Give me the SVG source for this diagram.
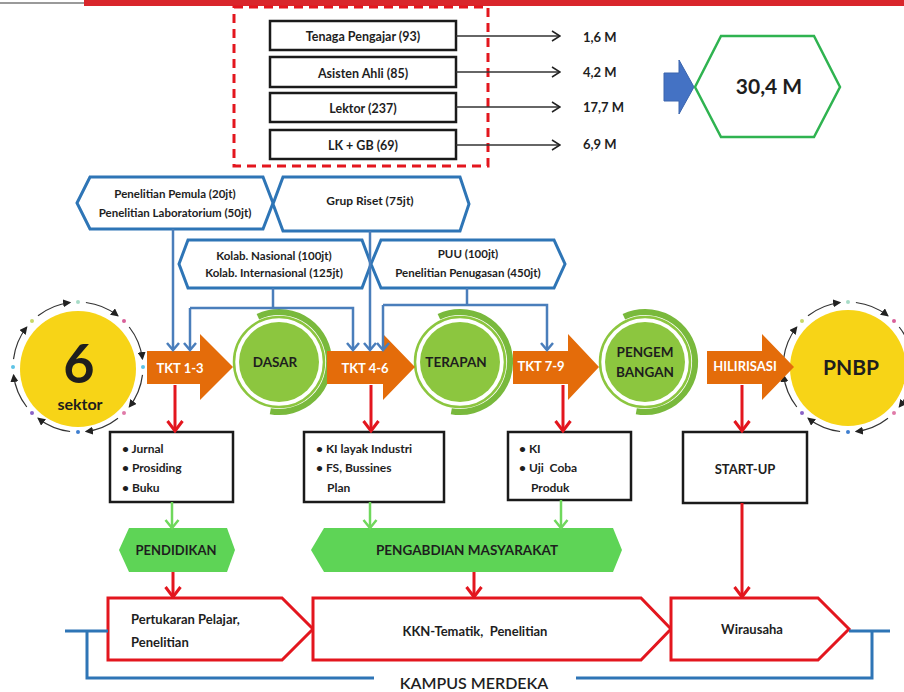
<svg xmlns="http://www.w3.org/2000/svg" width="904" height="692" viewBox="0 0 904 692">
<style>
text{font-family:Lato,"Liberation Sans",sans-serif;fill:#1e1e1e}
.b{font-weight:bold}
.c{text-anchor:middle;dominant-baseline:central}
.box{fill:#fff;stroke:#1a1a1a;stroke-width:2.5}
.hexb{fill:#fff;stroke:#2e75b6;stroke-width:3;stroke-linejoin:miter}
.blue{fill:none;stroke:#4a7ebb;stroke-width:2.5}
.red{fill:none;stroke:#e3161e;stroke-width:3}
.grn{fill:none;stroke:#6fd85c;stroke-width:2.5}
.blk{fill:none;stroke:#333;stroke-width:1.3}
.org{fill:#e46c0a}
.wt{fill:#fff;font-weight:bold;font-size:13px}
.chev{fill:#fff;stroke:#e3161e;stroke-width:3}
.ghex{fill:#5ed456}
.ring{fill:none;stroke:#333;stroke-width:1.2}
</style>
<defs>
<marker id="mb" viewBox="0 0 14 14" refX="7" refY="12" markerWidth="14" markerHeight="14" markerUnits="userSpaceOnUse" orient="0"><path d="M1,5 L7,12 L13,5" fill="none" stroke="#4a7ebb" stroke-width="2.5"/></marker>
<marker id="mr" viewBox="0 0 18 16" refX="9" refY="14" markerWidth="18" markerHeight="16" markerUnits="userSpaceOnUse" orient="0"><path d="M1.5,4 L9,14 L16.5,4" fill="none" stroke="#e3161e" stroke-width="3"/></marker>
<marker id="mg" viewBox="0 0 16 14" refX="8" refY="12" markerWidth="16" markerHeight="14" markerUnits="userSpaceOnUse" orient="0"><path d="M1.5,4 L8,12 L14.5,4" fill="none" stroke="#6fd85c" stroke-width="2.5"/></marker>
<marker id="mk" viewBox="0 0 12 12" refX="11" refY="6" markerWidth="12" markerHeight="12" markerUnits="userSpaceOnUse" orient="auto"><path d="M3,1 L11,6 L3,11" fill="none" stroke="#222" stroke-width="1.5"/></marker>
<marker id="mt" viewBox="0 0 8 8" refX="7" refY="4" markerWidth="8" markerHeight="8" markerUnits="userSpaceOnUse" orient="auto"><path d="M0,0 L8,4 L0,8 Z" fill="#222"/></marker>
<g id="ringArrows">
<path class="ring" marker-end="url(#mt)" d="M64.5,7.9 A65,65 0 0 1 51.2,40"/>
<path class="ring" marker-end="url(#mt)" d="M40,51.2 A65,65 0 0 1 7.9,64.5"/>
<path class="ring" marker-end="url(#mt)" d="M-7.9,64.5 A65,65 0 0 1 -40,51.2"/>
<path class="ring" marker-end="url(#mt)" d="M-51.2,40 A65,65 0 0 1 -64.5,7.9"/>
<path class="ring" marker-end="url(#mt)" d="M-64.5,-7.9 A65,65 0 0 1 -51.2,-40"/>
<path class="ring" marker-end="url(#mt)" d="M-40,-51.2 A65,65 0 0 1 -7.9,-64.5"/>
<path class="ring" marker-end="url(#mt)" d="M7.9,-64.5 A65,65 0 0 1 40,-51.2"/>
<path class="ring" marker-end="url(#mt)" d="M51.2,-40 A65,65 0 0 1 64.5,-7.9"/>
<circle cx="65" cy="0" r="2" fill="#5ec3e6"/>
<circle cx="46" cy="46" r="2" fill="#e07aa8"/>
<circle cx="0" cy="65" r="2" fill="#3f7fd0"/>
<circle cx="-46" cy="46" r="2" fill="#8a63c8"/>
<circle cx="-65" cy="0" r="2" fill="#5ec3e6"/>
<circle cx="-46" cy="-46" r="2" fill="#c7d86a"/>
<circle cx="0" cy="-65" r="2" fill="#a8dcc8"/>
<circle cx="46" cy="-46" r="2" fill="#d8609a"/>
</g>
<g id="gcirc">
<circle r="40" fill="#8cc63f"/>
<circle r="45" fill="none" stroke="#8cc63f" stroke-width="2.5"/>
<path d="M-21.1,-45.3 A50,50 0 1 1 -8.7,49.2" fill="none" stroke="#79b93c" stroke-width="6"/>
</g>
</defs>

<!-- header bar -->
<rect x="84" y="0" width="820" height="6" fill="#d9262b"/>
<line x1="0" y1="3" x2="84" y2="3" stroke="#9a9a9a" stroke-width="2"/>

<!-- dashed group -->
<rect x="234" y="7" width="254" height="159" fill="none" stroke="#e3161e" stroke-width="3" stroke-dasharray="9 6"/>

<g id="n-tenaga"><rect class="box" x="270" y="21" width="186" height="29"/><text class="b c" x="363" y="36" font-size="12.5">Tenaga Pengajar (93)</text></g>
<g id="n-asisten"><rect class="box" x="270" y="57" width="186" height="30"/><text class="b c" x="363" y="73" font-size="12.5">Asisten Ahli (85)</text></g>
<g id="n-lektor"><rect class="box" x="270" y="93" width="186" height="29"/><text class="b c" x="363" y="108" font-size="12.5">Lektor (237)</text></g>
<g id="n-lkgb"><rect class="box" x="270" y="130" width="186" height="29"/><text class="b c" x="363" y="145" font-size="12.5">LK + GB (69)</text></g>

<g id="values" font-size="13">
<text class="b" x="583" y="37" dominant-baseline="central">1,6 M</text>
<text class="b" x="583" y="72" dominant-baseline="central">4,2 M</text>
<text class="b" x="583" y="107" dominant-baseline="central">17,7 M</text>
<text class="b" x="583" y="144" dominant-baseline="central">6,9 M</text>
</g>

<g id="n-bluearrow"><path d="M664,73 H679 V60 L694,87 L679,114 V101 H664 Z" fill="#4472c4" stroke="#3a64ad" stroke-width="1"/></g>
<g id="n-total"><path d="M695,87 L721,36 H814 L840,87 L814,137 H721 Z" fill="#fff" stroke="#2fb350" stroke-width="2.5"/><text class="b c" x="769" y="85" font-size="21">30,4 M</text></g>

<!-- blue hexagons -->
<g id="n-pemula"><path class="hexb" d="M77,203 L90,177 H263 L273,203 L263,229 H90 Z"/><text class="b c" x="175" y="193" font-size="11.5">Penelitian Pemula (20jt)</text><text class="b c" x="175" y="212" font-size="11.5">Penelitian Laboratorium (50jt)</text></g>
<g id="n-grup"><path class="hexb" d="M273,204 L283,177 H460 L469,204 L460,231 H283 Z"/><text class="b c" x="370" y="200" font-size="12">Grup Riset (75jt)</text></g>
<g id="n-kolab"><path class="hexb" d="M179,264 L188,240 H362 L371,264 L362,288 H188 Z"/><text class="b c" x="274" y="255" font-size="11.5">Kolab. Nasional (100jt)</text><text class="b c" x="274" y="272" font-size="11.5">Kolab. Internasional (125jt)</text></g>
<g id="n-puu"><path class="hexb" d="M371,264 L381,240 H554 L565,264 L554,288 H381 Z"/><text class="b c" x="468" y="253" font-size="11.5">PUU (100jt)</text><text class="b c" x="468" y="272" font-size="11.5">Penelitian Penugasan (450jt)</text></g>

<!-- circles -->
<g id="n-sektor"><circle cx="78" cy="369" r="58" fill="#f7d417"/><use href="#ringArrows" transform="translate(78,367)"/><text class="b c" x="79" y="362" font-size="54">6</text><text class="b c" x="80" y="403" font-size="16">sektor</text></g>
<g id="n-pnbp"><circle cx="848" cy="368" r="58" fill="#f7d417"/><use href="#ringArrows" transform="translate(848,367)"/><text class="b c" x="851" y="366" font-size="21">PNBP</text></g>
<g id="n-dasar"><use href="#gcirc" transform="translate(279,362)"/><text class="b c" x="275" y="362" font-size="13.5">DASAR</text></g>
<g id="n-terapan"><use href="#gcirc" transform="translate(460,362)"/><text class="b c" x="456" y="362" font-size="13.5">TERAPAN</text></g>
<g id="n-pengembangan"><use href="#gcirc" transform="translate(645,362)"/><text class="b c" x="645" y="352" font-size="13.5">PENGEM</text><text class="b c" x="645" y="372" font-size="13.5">BANGAN</text></g>

<!-- orange arrows -->
<g id="n-tkt13"><path class="org" d="M147,351 H200 V334 L233,367 L200,400 V384 H147 Z"/><text class="wt c" x="180" y="368">TKT 1-3</text></g>
<g id="n-tkt46"><path class="org" d="M327,351 H383 V334 L415,367 L383,400 V384 H327 Z"/><text class="wt c" x="365" y="368">TKT 4-6</text></g>
<g id="n-tkt79"><path class="org" d="M513,351 H568 V334 L599,367 L568,400 V384 H513 Z"/><text class="wt c" x="541" y="366">TKT 7-9</text></g>
<g id="n-hilirisasi"><path class="org" d="M707,351 H762 V334 L794,367 L762,400 V384 H707 Z"/><text class="wt c" x="745" y="366">HILIRISASI</text></g>

<!-- output boxes -->
<g id="n-jurnal"><rect class="box" x="110" y="432" width="123" height="70"/>
<text class="b" x="122" y="448" font-size="12" dominant-baseline="central">• Jurnal</text>
<text class="b" x="122" y="467" font-size="12" dominant-baseline="central">• Prosiding</text>
<text class="b" x="122" y="487" font-size="12" dominant-baseline="central">• Buku</text></g>
<g id="n-ki-industri"><rect class="box" x="304" y="432" width="140" height="70"/>
<text class="b" x="316" y="448" font-size="12" dominant-baseline="central">• KI layak Industri</text>
<text class="b" x="316" y="467" font-size="12" dominant-baseline="central">• FS, Bussines</text>
<text class="b" x="327" y="487" font-size="12" dominant-baseline="central">Plan</text></g>
<g id="n-ki"><rect class="box" x="508" y="432" width="123" height="68"/>
<text class="b" x="519" y="448" font-size="12" dominant-baseline="central">• KI</text>
<text class="b" x="519" y="467" font-size="12" dominant-baseline="central" xml:space="preserve">• Uji  Coba</text>
<text class="b" x="531" y="487" font-size="12" dominant-baseline="central">Produk</text></g>
<g id="n-startup"><rect class="box" x="683" y="432" width="124" height="71"/><text class="b c" x="745" y="469" font-size="13">START-UP</text></g>

<!-- green hexagons -->
<g id="n-pendidikan"><path class="ghex" d="M119,550 L129,528 H227 L235,550 L227,572 H129 Z"/><text class="b c" x="176" y="550" font-size="13">PENDIDIKAN</text></g>
<g id="n-pengabdian"><path class="ghex" d="M311,550 L324,528 H613 L622,550 L613,572 H324 Z"/><text class="b c" x="467" y="550" font-size="13.5">PENGABDIAN MASYARAKAT</text></g>

<!-- bottom chevrons -->
<g id="n-pertukaran"><path class="chev" d="M108,598 H282 L313,629 L282,660 H108 Z"/><text class="b" x="131" y="619" font-size="13" dominant-baseline="central">Pertukaran Pelajar,</text><text class="b" x="131" y="642" font-size="13" dominant-baseline="central">Penelitian</text></g>
<g id="n-kkn"><path class="chev" d="M313,598 H641 L671,629 L641,660 H313 Z"/><text class="b c" x="475" y="631" font-size="13" xml:space="preserve">KKN-Tematik,  Penelitian</text></g>
<g id="n-wirausaha"><path class="chev" d="M671,598 H818 L849,629 L818,660 H671 Z"/><text class="b c" x="752" y="629" font-size="13">Wirausaha</text></g>
<g id="n-kampus"><text class="c" x="474" y="682" font-size="16" font-weight="600">KAMPUS MERDEKA</text></g>

<!-- connectors -->
<g id="connectors">
<line class="blk" x1="456" y1="36" x2="560" y2="36" marker-end="url(#mk)"/>
<line class="blk" x1="456" y1="72" x2="560" y2="72" marker-end="url(#mk)"/>
<line class="blk" x1="456" y1="107" x2="560" y2="107" marker-end="url(#mk)"/>
<line class="blk" x1="456" y1="145" x2="560" y2="145" marker-end="url(#mk)"/>

<path class="blue" d="M173,229 V350" marker-end="url(#mb)"/>
<path class="blue" d="M273,288 V308"/>
<path class="blue" d="M190,308 H353 V350" marker-end="url(#mb)"/>
<path class="blue" d="M190,308 V350" marker-end="url(#mb)"/>
<path class="blue" d="M370,231 V350" marker-end="url(#mb)"/>
<path class="blue" d="M467,288 V305"/>
<path class="blue" d="M383,305 H547 V350" marker-end="url(#mb)"/>
<path class="blue" d="M383,305 V350" marker-end="url(#mb)"/>

<line class="red" x1="175" y1="385" x2="175" y2="431" marker-end="url(#mr)"/>
<line class="red" x1="371" y1="385" x2="371" y2="431" marker-end="url(#mr)"/>
<line class="red" x1="563" y1="385" x2="563" y2="431" marker-end="url(#mr)"/>
<line class="red" x1="742" y1="385" x2="742" y2="431" marker-end="url(#mr)"/>

<line class="grn" x1="172" y1="502" x2="172" y2="528" marker-end="url(#mg)"/>
<line class="grn" x1="370" y1="502" x2="370" y2="528" marker-end="url(#mg)"/>
<line class="grn" x1="561" y1="500" x2="561" y2="528" marker-end="url(#mg)"/>

<line class="red" x1="173" y1="572" x2="173" y2="597" marker-end="url(#mr)"/>
<line class="red" x1="474" y1="572" x2="474" y2="597" marker-end="url(#mr)"/>
<line class="red" x1="742" y1="503" x2="742" y2="597" marker-end="url(#mr)"/>

<path d="M65,631 H108 M87,631 V678 H374 M576,678 H872 V631 M849,631 H890" fill="none" stroke="#2e75b6" stroke-width="3"/>
</g>
</svg>
